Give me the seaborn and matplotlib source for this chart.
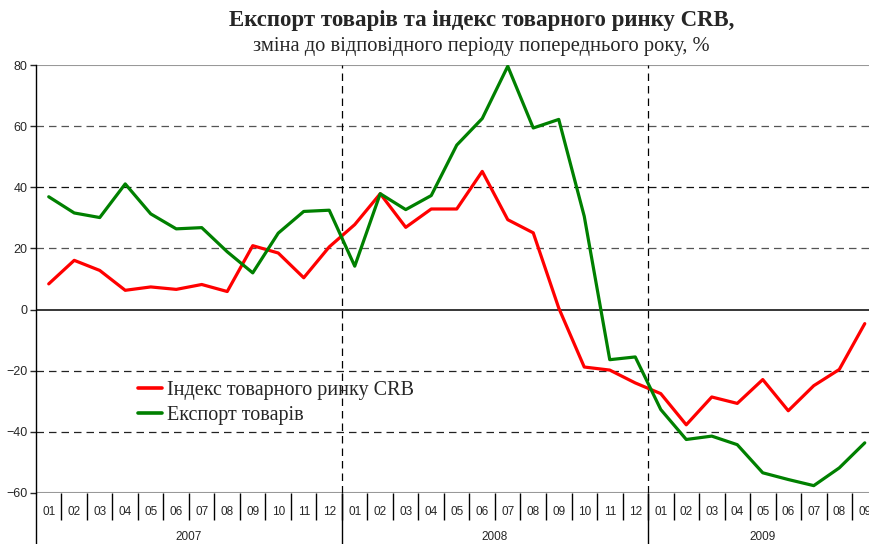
import numpy as np
import pandas as pd
import matplotlib
matplotlib.use('Agg')
import matplotlib.pyplot as plt
import seaborn as sns

months = ['01', '02', '03', '04', '05', '06', '07', '08', '09', '10', '11', '12'] * 2 + \
         ['01', '02', '03', '04', '05', '06', '07', '08', '09']
years = ['2007', '2008', '2009']
year_len = [12, 12, 9]

crb = [8.4, 16.1, 12.8, 6.3, 7.4, 6.6, 8.2, 5.9, 20.9, 18.5, 10.4, 20.5,
       27.8, 37.9, 26.9, 32.9, 32.9, 45.2, 29.4, 25.1, 0.5, -18.8, -19.8, -24.0,
       -27.5, -37.7, -28.6, -30.7, -22.9, -33.1, -24.9, -19.6, -4.6]
export = [36.9, 31.6, 30.1, 41.1, 31.3, 26.4, 26.8, 18.9, 12.0, 25.0, 32.1, 32.5,
          14.2, 37.9, 32.7, 37.3, 53.8, 62.5, 79.6, 59.4, 62.2, 30.5, -16.4, -15.5,
          -32.7, -42.5, -41.4, -44.2, -53.4, -55.6, -57.6, -51.8, -43.6]

names = ['Індекс товарного ринку CRB', 'Експорт товарів']
colours = ['#ff0000', '#008000']

n = len(months)
df = pd.DataFrame({'x': list(range(n)) * 2,
                   'value': crb + export,
                   'series': [names[0]] * n + [names[1]] * n})

sns.set_style('white')
plt.rcParams['font.family'] = ['Liberation Sans', 'DejaVu Sans']

fig = plt.figure(figsize=(8.69, 5.44), dpi=100)
ax = fig.add_axes([0.0414, 0.0938, 0.9684, 0.7867])

sns.lineplot(data=df, x='x', y='value', hue='series', palette=colours,
             hue_order=names, linewidth=2.3, ax=ax)

ax.set_xlim(-0.5, n - 0.5)
ax.set_ylim(-60, 80)
ax.set_yticks(range(-60, 81, 20))
ax.tick_params(axis='y', labelsize=9, length=4, width=1, direction='out',
               left=True, pad=2)
ax.set_xticks([])
ax.set_xlabel('')
ax.set_ylabel('')

# grid
for y, c in zip([-40, -20, 20, 40, 60],
                ['#222222', '#222222', '#555555', '#111111', '#555555']):
    ax.axhline(y, color=c, lw=0.9, ls=(0, (6, 4)), zorder=0)
ax.axhline(0, color='black', lw=1.1, zorder=1)
ax.axhline(80, color='#999999', lw=1.5, zorder=0)
ax.axhline(-60, color='#999999', lw=1.5, zorder=0)

for s in ['top', 'right', 'bottom']:
    ax.spines[s].set_visible(False)
ax.spines['left'].set_color('black')
ax.spines['left'].set_linewidth(1.0)

# category axis: months and years
trans = ax.get_xaxis_transform()
for i, m in enumerate(months):
    ax.text(i, -0.044, m, transform=trans, ha='center', va='center', fontsize=8.5)
ax.vlines(np.arange(n - 1) + 0.5, -0.063, 0, transform=trans, color='black',
          lw=1, clip_on=False)
start = 0
for yr, ln in zip(years, year_len):
    ax.text(start + (ln - 1) / 2, -0.104, yr, transform=trans, ha='center',
            va='center', fontsize=8.5)
    if start > 0:
        ax.vlines(start - 0.5, -0.13, 0, transform=trans, color='black',
                  lw=1, clip_on=False)
        ax.vlines(start - 0.5, 0, 1, transform=trans, color='black', lw=0.9,
                  ls=(0, (6, 4)), zorder=0)
    start += ln
ax.vlines(-0.5, -0.13, 0, transform=trans, color='black', lw=1, clip_on=False)

leg = ax.legend(loc='center left', bbox_to_anchor=(0.121, 0.21), frameon=False,
                prop={'family': 'Liberation Serif', 'size': 14.5},
                handlelength=1.2, handletextpad=0.25, labelspacing=0.28,
                borderaxespad=0, borderpad=0)
for h in leg.get_lines():
    h.set_linewidth(2.6)

fig.text(0.554, 0.963, 'Експорт товарів та індекс товарного ринку CRB,',
         ha='center', va='center', fontsize=16.5, fontweight='bold',
         family='Liberation Serif')
fig.text(0.554, 0.914, 'зміна до відповідного періоду попереднього року, %',
         ha='center', va='center', fontsize=14.8, family='Liberation Serif')

fig.savefig('out.png', dpi=100)
